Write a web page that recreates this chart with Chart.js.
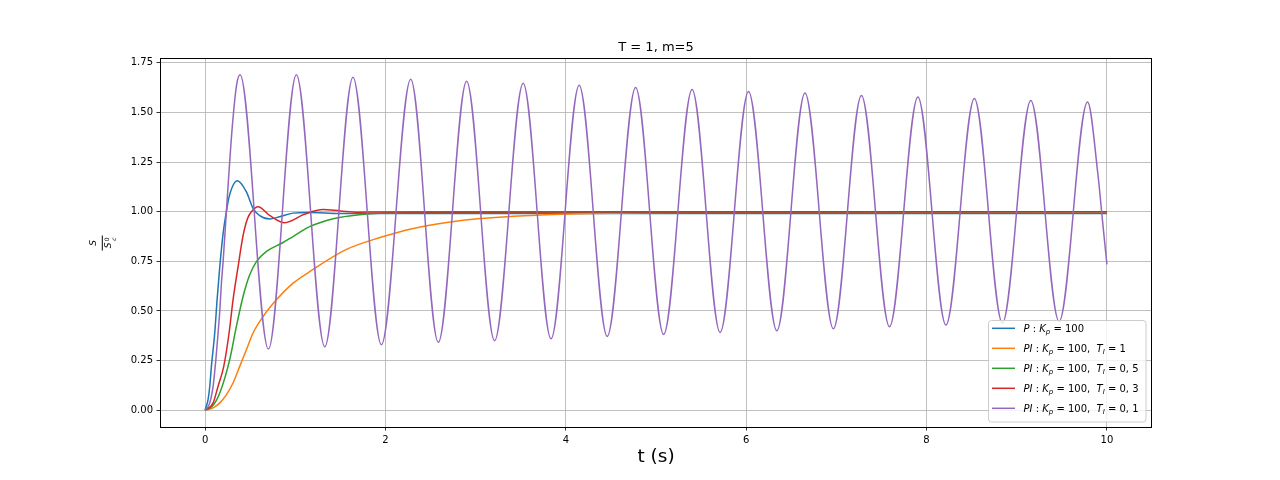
<!DOCTYPE html>
<html>
<head>
<meta charset="utf-8">
<title>T = 1, m=5</title>
<script src="https://cdn.jsdelivr.net/npm/chart.js@4"></script>
<style>
  html, body { margin: 0; padding: 0; background: #fff; }
  canvas { display: block; }
</style>
</head>
<body>
<canvas id="chart" width="1280" height="480"></canvas>
<script>
// Values (t in s, S / S_c^0)
const pT = [0, 0.033, 0.052, 0.07, 0.107, 0.133, 0.163, 0.2, 0.236, 0.266, 0.358, 0.458, 0.532, 0.606, 0.717, 0.828, 0.975, 1.15, 1.5, 10];
const pS = [0, 0.054, 0.121, 0.221, 0.389, 0.556, 0.724, 0.891, 1.0, 1.075, 1.156, 1.1, 1.017, 0.98, 0.963, 0.975, 0.993, 0.996, 0.991, 0.991];

const pi1T = [0, 0.089, 0.163, 0.237, 0.31, 0.384, 0.458, 0.532, 0.643, 0.791, 0.976, 1.16, 1.567, 1.94, 2.31, 2.68, 3.05, 3.42, 3.78, 4.15, 5, 6, 10];
const pi1S = [0, 0.012, 0.037, 0.079, 0.137, 0.221, 0.305, 0.389, 0.472, 0.556, 0.64, 0.698, 0.81, 0.87, 0.916, 0.946, 0.966, 0.977, 0.985, 0.99, 0.996, 0.999, 1.0];

const pi05T = [0, 0.08, 0.163, 0.273, 0.347, 0.421, 0.495, 0.569, 0.68, 0.865, 0.975, 1.16, 1.42, 1.71, 2.08, 2.5, 10];
const pi05S = [0, 0.02, 0.087, 0.255, 0.422, 0.573, 0.682, 0.749, 0.8, 0.845, 0.875, 0.925, 0.965, 0.985, 0.994, 0.998, 1.0];

const pi03T = [0, 0.089, 0.144, 0.207, 0.266, 0.31, 0.366, 0.421, 0.47, 0.514, 0.588, 0.72, 0.883, 1.1, 1.308, 1.5, 1.7, 2.0, 10];
const pi03S = [0, 0.037, 0.121, 0.221, 0.389, 0.556, 0.724, 0.88, 0.965, 1.0, 1.025, 0.98, 0.945, 0.987, 1.011, 1.004, 0.998, 0.999, 1.0];

const pi01T = [0, 0.052, 0.089, 0.118, 0.144, 0.163, 0.181, 0.2, 0.236, 0.3, 0.35, 0.388,
  0.702, 1.012, 1.327, 1.64, 1.955, 2.28, 2.586, 2.90, 3.21, 3.527, 3.836, 4.148, 4.459, 4.774,
  5.085, 5.40, 5.711, 6.026, 6.34, 6.652, 6.967, 7.278, 7.589, 7.904, 8.215, 8.53, 8.841, 9.156,
  9.47, 9.785, 9.9, 9.95, 10];
const pi01S = [0, 0.037, 0.121, 0.248, 0.389, 0.5, 0.64, 0.75, 1.0, 1.42, 1.64, 1.69,
  0.308, 1.69, 0.32, 1.678, 0.33, 1.667, 0.342, 1.657, 0.35, 1.647, 0.36, 1.637, 0.372, 1.626,
  0.382, 1.616, 0.392, 1.606, 0.40, 1.598, 0.41, 1.586, 0.42, 1.578, 0.429, 1.57, 0.439, 1.561,
  0.447, 1.553, 1.19, 0.96, 0.735];

const seriesLabels = ['P : Kp = 100', 'PI : Kp = 100, TI = 1', 'PI : Kp = 100, TI = 0,5', 'PI : Kp = 100, TI = 0,3', 'PI : Kp = 100, TI = 0,1'];
const seriesColors = ['#1f77b4', '#ff7f0e', '#2ca02c', '#d62728', '#9467bd'];
const seriesT = [pT, pi1T, pi05T, pi03T, pi01T];
const seriesS = [pS, pi1S, pi05S, pi03S, pi01S];

const xTicks = [0, 2, 4, 6, 8, 10];
const yTicks = [0, 0.25, 0.5, 0.75, 1.0, 1.25, 1.5, 1.75];

// legend text pieces: [text, style] with i = italic, s = italic subscript
const legendParts = [
  [['P', 'i'], [' : '], ['K', 'i'], ['p', 's'], [' = 100']],
  [['PI', 'i'], [' : '], ['K', 'i'], ['p', 's'], [' = 100,  '], ['T', 'i'], ['I', 's'], [' = 1']],
  [['PI', 'i'], [' : '], ['K', 'i'], ['p', 's'], [' = 100,  '], ['T', 'i'], ['I', 's'], [' = 0, 5']],
  [['PI', 'i'], [' : '], ['K', 'i'], ['p', 's'], [' = 100,  '], ['T', 'i'], ['I', 's'], [' = 0, 3']],
  [['PI', 'i'], [' : '], ['K', 'i'], ['p', 's'], [' = 100,  '], ['T', 'i'], ['I', 's'], [' = 0, 1']]
];

const FONT = '"DejaVu Sans", "Liberation Sans", sans-serif';

const datasets = seriesT.map((ts, i) => ({
    label: seriesLabels[i],
    data: ts.map((t, k) => ({ x: t, y: seriesS[i][k] })),
    borderColor: seriesColors[i],
    backgroundColor: seriesColors[i],
    borderWidth: 1.5,
    borderJoinStyle: 'round',
    pointRadius: 0,
    fill: false,
    cubicInterpolationMode: 'monotone',
    order: seriesT.length - i
}));

const decorations = {
    id: 'decorations',
    afterDatasetsDraw(chart) {
        const { ctx, chartArea: a } = chart;
        ctx.save();

        // frame
        ctx.strokeStyle = '#000';
        ctx.lineWidth = 1;
        ctx.strokeRect(a.left + 0.5, a.top + 0.5, a.right - a.left - 1, a.bottom - a.top);

        // legend box
        const bx = 988.5, by = 320.5, bw = 157.5, bh = 101.5;
        ctx.beginPath();
        ctx.roundRect(bx, by, bw, bh, 3);
        ctx.fillStyle = 'rgba(255,255,255,0.8)';
        ctx.fill();
        ctx.strokeStyle = '#cccccc';
        ctx.lineWidth = 1;
        ctx.stroke();

        legendParts.forEach((parts, i) => {
            const cy = 328.3 + i * 20;
            ctx.strokeStyle = seriesColors[i];
            ctx.lineWidth = 1.5;
            ctx.beginPath();
            ctx.moveTo(992, cy);
            ctx.lineTo(1015, cy);
            ctx.stroke();

            let x = 1023.5;
            const base = cy + 4;
            ctx.fillStyle = '#000';
            ctx.textBaseline = 'alphabetic';
            ctx.textAlign = 'left';
            parts.forEach(([txt, st]) => {
                let y = base;
                if (st === 'i') ctx.font = 'italic 10px ' + FONT;
                else if (st === 's') { ctx.font = 'italic 7px ' + FONT; y = base + 2; }
                else ctx.font = '10px ' + FONT;
                ctx.fillText(txt, x, y);
                x += ctx.measureText(txt).width;
            });
        });
        ctx.restore();
    },
    afterDraw(chart) {
        const { ctx, chartArea: a } = chart;
        const cx = (a.left + a.right) / 2;
        ctx.save();
        ctx.fillStyle = '#000';
        ctx.textAlign = 'center';
        ctx.textBaseline = 'alphabetic';

        ctx.font = '13px ' + FONT;
        ctx.fillText('T = 1, m=5', cx, 50.7);

        ctx.font = '18.5px ' + FONT;
        ctx.fillText('t (s)', cx, 462);

        // y label: fraction S / S_c^0, rotated
        ctx.translate(102.3, 243);
        ctx.rotate(-Math.PI / 2);
        ctx.font = 'italic 9px ' + FONT;
        ctx.fillText('S', 0, -6);
        ctx.fillText('S', -2.5, 9);
        ctx.font = '6px ' + FONT;
        ctx.textAlign = 'left';
        ctx.fillText('0', 1.8, 6.8);
        ctx.font = 'italic 6px ' + FONT;
        ctx.fillText('c', 2.2, 13.6);
        ctx.strokeStyle = '#000';
        ctx.lineWidth = 1;
        ctx.beginPath();
        ctx.moveTo(-7.5, 0);
        ctx.lineTo(7.5, 0);
        ctx.stroke();
        ctx.restore();
    }
};

new Chart(document.getElementById('chart'), {
    type: 'line',
    data: { datasets: datasets },
    options: {
        responsive: false,
        devicePixelRatio: 1,
        animation: false,
        layout: { padding: { top: 58, right: 128, bottom: 0, left: 0 } },
        plugins: {
            legend: { display: false },
            title: { display: false },
            tooltip: { enabled: false }
        },
        scales: {
            x: {
                type: 'linear',
                min: -0.5,
                max: 10.5,
                afterFit: s => { s.height = 53; },
                afterBuildTicks: s => { s.ticks = xTicks.map(v => ({ value: v })); },
                border: { display: false },
                grid: { color: '#b0b0b0', lineWidth: 0.8, tickColor: '#000', tickLength: 3.5, tickWidth: 0.8 },
                ticks: {
                    color: '#000',
                    font: { family: FONT, size: 10 },
                    padding: 3.5,
                    maxRotation: 0,
                    autoSkip: false,
                    callback: v => String(v)
                }
            },
            y: {
                type: 'linear',
                min: -0.0845,
                max: 1.7745,
                afterFit: s => { s.width = 160; },
                afterBuildTicks: s => { s.ticks = yTicks.map(v => ({ value: v })); },
                border: { display: false },
                grid: { color: '#b0b0b0', lineWidth: 0.8, tickColor: '#000', tickLength: 3.5, tickWidth: 0.8 },
                ticks: {
                    color: '#000',
                    font: { family: FONT, size: 10 },
                    padding: 3.5,
                    autoSkip: false,
                    callback: v => v.toFixed(2)
                }
            }
        }
    },
    plugins: [decorations]
});
</script>
</body>
</html>
